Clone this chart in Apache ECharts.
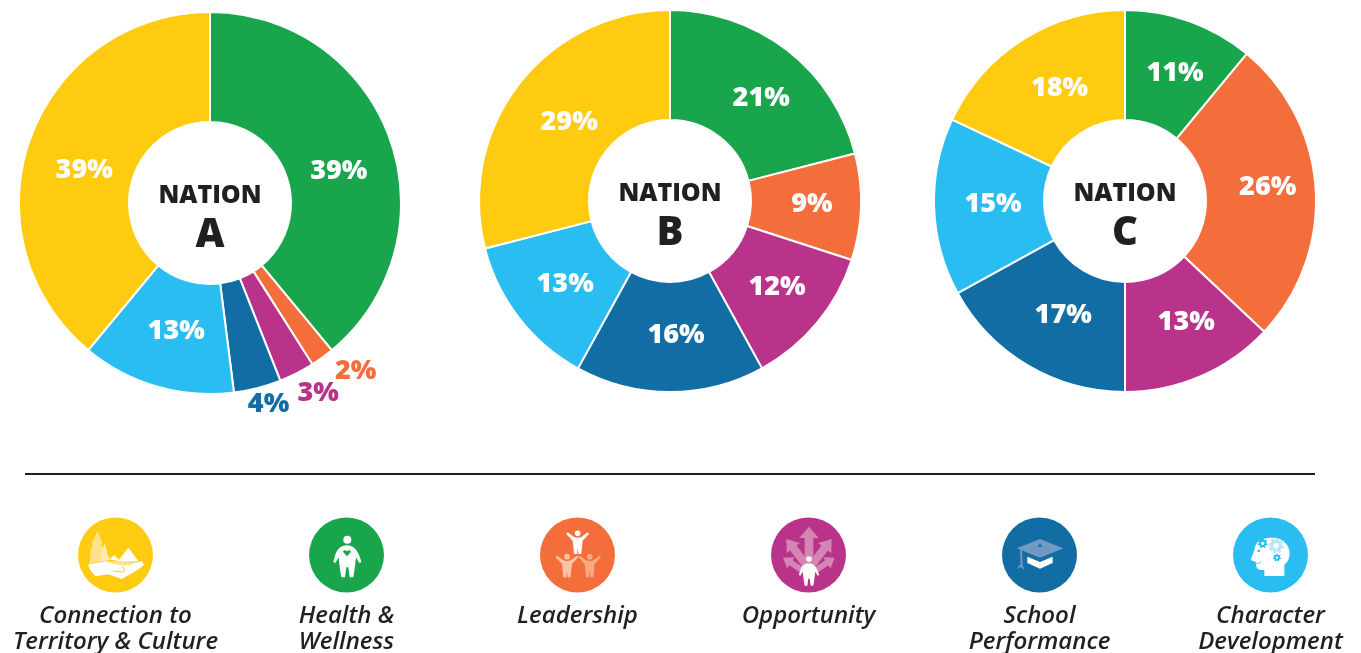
<!DOCTYPE html>
<html>
<head>
<meta charset="utf-8">
<style>
  html, body { margin: 0; padding: 0; background: #fff; }
  #chart { width: 1361px; height: 653px; }
</style>
<script src="https://cdn.jsdelivr.net/npm/echarts@6/dist/echarts.min.js"></script>
</head>
<body>
<div id="chart"></div>
<script>
// slices run clockwise from 12 o'clock
const categories = ['Health & Wellness', 'Leadership', 'Opportunity', 'School Performance', 'Character Development', 'Connection to Territory & Culture'];
const nationA = [39, 2, 3, 4, 13, 39];
const nationB = [21, 9, 12, 16, 13, 29];
const nationC = [11, 26, 13, 17, 15, 18];
const colors = ['#19a54b', '#f46e3c', '#b9338a', '#136da5', '#2abdf1', '#ffcb11'];

// label nudges away from the default mid-ring position
const offsetsA = [[-2, 15], [64, 56], [45, 66], [24, 67], [5, -5], [5, 14]];
const offsetsB = [[6, 7], [3, -1], [0, -2], [6, -5], [5, -2], [9, 7]];
const offsetsC = [[3, 3], [4, -5], [6, -6], [9, -5], [7, -1], [9, 5]];

const INK = '#231f20';
const FONT = '"Open Sans", sans-serif';

const chart = echarts.init(document.getElementById('chart'), null, { renderer: 'canvas' });

function pie(center, values, offsets, outsideFrom, outsideTo) {
  return {
    type: 'pie',
    center: center,
    radius: [81, 191],
    startAngle: 90,
    clockwise: true,
    silent: true,
    avoidLabelOverlap: false,
    minShowLabelAngle: 0,
    labelLayout: { hideOverlap: false },
    labelLine: { show: false },
    itemStyle: { borderColor: '#fff', borderWidth: 2 },
    data: values.map((v, i) => {
      const outside = i >= outsideFrom && i <= outsideTo;
      return {
        name: categories[i],
        value: v,
        itemStyle: { color: colors[i] },
        label: {
          show: true,
          position: 'inside',
          formatter: '{c}%',
          color: outside ? colors[i] : '#fff',
          fontFamily: FONT,
          fontWeight: 800,
          fontSize: 27,
          offset: offsets[i]
        }
      };
    })
  };
}

function centerText(x, y, word, letter) {
  return [
    { type: 'text', x: x, y: y - 11, style: { text: word, font: '800 25px ' + FONT, fill: INK, align: 'center', verticalAlign: 'middle' } },
    { type: 'text', x: x, y: y + 29, style: { text: letter, font: '800 40px ' + FONT, fill: INK, align: 'center', verticalAlign: 'middle' } }
  ];
}

// icon helpers, drawn in 3x crop coordinates and scaled down by the group
let shapeCount = 0;
function pathShape(d) {
  const name = 'iconPath' + (shapeCount++);
  echarts.graphic.registerShape(name, echarts.graphic.extendPath(d, {}));
  return name;
}
function poly(pts, fill) {
  return { type: 'polygon', shape: { points: pts }, style: { fill: fill } };
}
function path(d, fill, extra) {
  return { type: pathShape(d), style: Object.assign({ fill: fill }, extra || {}) };
}
function dot(cx, cy, r, fill) {
  return { type: 'circle', shape: { cx: cx, cy: cy, r: r }, style: { fill: fill } };
}
function arrow(x0, y0, x1, y1, w, hw, hl) {
  const len = Math.hypot(x1 - x0, y1 - y0);
  const ux = (x1 - x0) / len, uy = (y1 - y0) / len;
  const nx = -uy, ny = ux;
  const bx = x1 - ux * hl, by = y1 - uy * hl;
  return [
    [x0 + nx * w, y0 + ny * w], [bx + nx * w, by + ny * w], [bx + nx * hw, by + ny * hw], [x1, y1],
    [bx - nx * hw, by - ny * hw], [bx - nx * w, by - ny * w], [x0 - nx * w, y0 - ny * w]
  ];
}
function gear(cx, cy, r, teeth, fill, hole) {
  const pts = [];
  const n = teeth * 4;
  for (let i = 0; i < n; i++) {
    const a = (i + 0.5) / n * Math.PI * 2;
    const rr = (i % 4 < 2) ? r : r * 0.74;
    pts.push([cx + Math.cos(a) * rr, cy + Math.sin(a) * rr]);
  }
  return [poly(pts, fill), dot(cx, cy, r * 0.32, hole)];
}
const armsUp = 'M-34 2L-30 -3L-12 10C-5 14 5 14 12 10L30 -3L34 2L15 22L13 40L11 62L2 62L0 44L-2 62L-11 62L-13 40L-15 22Z';
const stout = 'M0 0C-22 0 -32 14 -38 34L-42 50L-36 53L-26 36C-24 54 -22 74 -18 96L-7 96L-3 66L3 66L7 96L18 96C22 74 24 54 26 36L36 53L42 50C37 28 24 0 0 0Z';
function cheerer(x, y, fill) {
  return [
    dot(x, y, 8.5, fill),
    { type: pathShape(armsUp), x: x, y: y, style: { fill: fill } }
  ];
}

const iconParts = [
  // connection to territory & culture
  [
    poly([[68, 48], [82, 85], [78, 85], [88, 115], [84, 115], [92, 135], [42, 146], [48, 115], [44, 115], [54, 85], [50, 85]], '#ffe08c'),
    poly([[88, 85], [98, 112], [95, 112], [105, 135], [75, 140], [80, 112], [78, 112]], '#ffeab0'),
    poly([[103, 133], [118, 120], [132, 134], [160, 98], [190, 138], [150, 142]], '#fff'),
    poly([[96, 138], [190, 138], [150, 154], [125, 148]], '#ffe08c'),
    path('M40 148L92 139C108 143 125 150 150 152C172 149 190 139 201 139L207 151C186 166 165 180 140 192L100 178L62 184C50 172 40 160 40 148Z', '#fff'),
    path('M115 168L141 171C151 169 151 158 140 156', 'none', { stroke: '#ffcb11', lineWidth: 3 })
  ],
  // health & wellness
  [
    dot(121, 74, 12, '#fff'),
    { type: pathShape(stout), x: 121, y: 91, style: { fill: '#fff' } },
    path('M120 124L109 112C106 106 115 103 120 109C125 103 134 106 131 112Z', '#19a54b')
  ],
  // leadership
  [].concat(cheerer(119, 55, '#fff'), cheerer(87, 125, '#fcc4a6'), cheerer(155, 125, '#f9a884')),
  // opportunity
  [
    poly(arrow(120, 130, 120, 35, 13, 29, 34), '#d585b3'),
    poly(arrow(112, 150, 52, 72, 12, 25, 34), '#d585b3'),
    poly(arrow(128, 150, 188, 72, 12, 25, 34), '#d585b3'),
    poly(arrow(100, 166, 42, 128, 9, 20, 28), '#d585b3'),
    poly(arrow(140, 166, 197, 128, 9, 20, 28), '#d585b3'),
    dot(120, 132, 8.5, '#fff'),
    { type: pathShape(stout), x: 120, y: 145, scaleX: 0.72, scaleY: 0.7, style: { fill: '#fff' } }
  ],
  // school performance
  [
    poly([[82, 125], [120, 141], [158, 125], [158, 144], [120, 161], [82, 144]], '#fff'),
    poly([[50, 100], [120, 72], [190, 100], [120, 128]], '#7199c4'),
    poly([[60, 104], [66, 106], [68, 150], [74, 165], [62, 156], [50, 162], [62, 146]], '#7199c4'),
    dot(120, 92, 5, '#136da5')
  ],
  // character development
  [].concat(
    [path('M60 132C65 118 70 110 72 95C78 75 100 68 125 68C155 68 176 90 176 115C176 135 165 145 160 150L160 183L100 183L100 165C90 165 80 165 76 155L74 140L60 136Z', '#fff')],
    gear(135, 92, 24, 8, '#b9e6fb', '#fff'),
    gear(95, 85, 15, 7, '#2abdf1', '#fff'),
    gear(138, 128, 12, 7, '#2abdf1', '#fff'),
    [dot(83, 108, 4, '#2abdf1'), path('M75 146C80 146 86 144 90 140', 'none', { stroke: '#2abdf1', lineWidth: 2.5 })]
  )
];
const iconColors = ['#ffcb11', '#19a54b', '#f46e3c', '#b9338a', '#136da5', '#2abdf1'];
const iconX = [115.5, 346.5, 577.5, 808.5, 1039.5, 1270.5];
const iconLabels = [
  ['Connection to', 'Territory & Culture'],
  ['Health &', 'Wellness'],
  ['Leadership'],
  ['Opportunity'],
  ['School', 'Performance'],
  ['Character', 'Development']
];

const graphics = [].concat(
  centerText(210, 207, 'NATION', 'A'),
  centerText(670, 205, 'NATION', 'B'),
  centerText(1125, 205, 'NATION', 'C'),
  [{ type: 'line', shape: { x1: 25, y1: 474, x2: 1315, y2: 474 }, style: { stroke: INK, lineWidth: 2 } }]
);

iconX.forEach((x, i) => {
  const offs = i === 0 ? 121.5 : 118.5;
  graphics.push({
    type: 'group',
    x: x - offs / 3,
    y: 515,
    scaleX: 1 / 3,
    scaleY: 1 / 3,
    children: [dot(offs, 120, 112.5, iconColors[i])].concat(iconParts[i])
  });
  iconLabels[i].forEach((line, j) => {
    graphics.push({
      type: 'text',
      x: x,
      y: 616 + j * 26,
      style: { text: line, font: 'italic 600 24px ' + FONT, fill: INK, align: 'center', verticalAlign: 'middle' }
    });
  });
});

chart.setOption({
  animation: false,
  backgroundColor: '#fff',
  series: [
    pie([210, 203], nationA, offsetsA, 1, 3),
    pie([670, 201], nationB, offsetsB, -1, -1),
    pie([1125, 201], nationC, offsetsC, -1, -1)
  ],
  graphic: graphics
});
</script>
</body>
</html>
